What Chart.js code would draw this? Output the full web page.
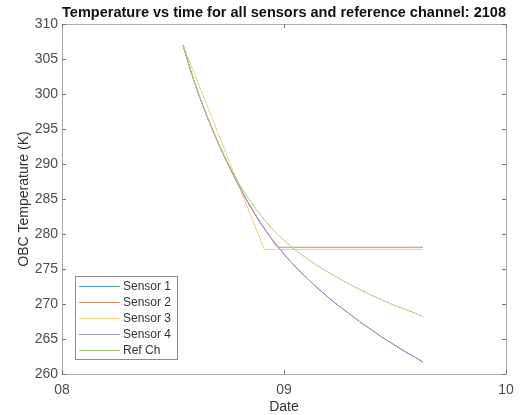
<!DOCTYPE html>
<html>
<head>
<meta charset="utf-8">
<script src="https://cdn.jsdelivr.net/npm/chart.js@4/dist/chart.umd.min.js"></script>
<style>
    html, body { margin: 0; padding: 0; background: #ffffff; }
    #contenedor { width: 525px; height: 415px; }
</style>
</head>
<body>
<div id="contenedor"><canvas id="chartTemperatura" width="525" height="415"></canvas></div>
<script>
// Eje X en dias contados desde el dia 08
const tickDias = [0, 1, 2];
const tickEtiquetas = ['08', '09', '10'];

const nombresSeries = ['Sensor 1', 'Sensor 2', 'Sensor 3', 'Sensor 4', 'Ref Ch'];
const coloresSeries = ['#5a9bcf', '#e08c66', '#f0cf7c', '#a391bf', '#a9c87f'];

// Curvas
const tiempoCurva = [0.545, 0.59, 0.64, 0.69, 0.74, 0.79, 0.84, 0.89, 0.94, 0.99, 1.04, 1.09,
                     1.14, 1.19, 1.24, 1.29, 1.34, 1.39, 1.44, 1.49, 1.54, 1.59, 1.626];
const tempSensor4 = [307.0, 302.3, 297.9, 294.0, 290.5, 287.3, 284.4, 281.8, 279.5, 277.5, 275.7, 274.1,
                     272.6, 271.2, 269.9, 268.7, 267.5, 266.4, 265.3, 264.3, 263.3, 262.4, 261.7];
const tempRef     = [307.0, 302.3, 297.9, 294.0, 290.6, 287.6, 285.1, 282.9, 281.0, 279.4, 278.0, 276.8,
                     275.7, 274.7, 273.8, 272.9, 272.1, 271.3, 270.6, 269.9, 269.3, 268.7, 268.2];

// Sensor 1 queda tapado por el sensor 4
const tiempoSensor1 = tiempoCurva;
const tempSensor1 = tempSensor4;

const tiempoSensor2 = [0.545, 0.59, 0.64, 0.69, 0.74, 0.79, 0.84, 0.89, 0.94, 0.975, 1.626];
const tempSensor2   = [307.0, 302.3, 297.9, 294.0, 290.5, 287.3, 284.4, 281.8, 279.5, 278.1, 278.1];

const tiempoSensor3 = [0.545, 0.911, 1.626];
const tempSensor3   = [307.0, 277.8, 277.8];

function armarPuntos(tiempos, valores) {
    return tiempos.map((t, i) => ({ x: t, y: valores[i] }));
}

const series = [
    armarPuntos(tiempoSensor1, tempSensor1),
    armarPuntos(tiempoSensor2, tempSensor2),
    armarPuntos(tiempoSensor3, tempSensor3),
    armarPuntos(tiempoCurva, tempSensor4),
    armarPuntos(tiempoCurva, tempRef)
];

Chart.defaults.font.family = '"Liberation Sans", Arial, sans-serif';

// Caja de los ejes con ticks hacia adentro (estilo MATLAB)
const marcoEjes = {
    id: 'marcoEjes',
    afterDatasetsDraw(chart) {
        const { ctx, chartArea: a, scales: { x, y } } = chart;
        ctx.save();
        ctx.strokeStyle = '#a8a8a8';
        ctx.lineWidth = 1;
        ctx.strokeRect(Math.round(a.left) + 0.5, Math.round(a.top) + 0.5,
                       Math.round(a.right - a.left), Math.round(a.bottom - a.top));
        ctx.strokeStyle = '#777777';
        ctx.beginPath();
        y.ticks.forEach(t => {
            const py = Math.round(y.getPixelForValue(t.value)) + 0.5;
            ctx.moveTo(a.left, py); ctx.lineTo(a.left + 4, py);
            ctx.moveTo(a.right, py); ctx.lineTo(a.right - 4, py);
        });
        x.ticks.forEach(t => {
            const px = Math.round(x.getPixelForValue(t.value)) + 0.5;
            ctx.moveTo(px, a.bottom); ctx.lineTo(px, a.bottom - 4);
            ctx.moveTo(px, a.top); ctx.lineTo(px, a.top + 4);
        });
        ctx.stroke();
        ctx.restore();
    }
};

// Leyenda dentro del area, abajo a la izquierda
const leyendaInterna = {
    id: 'leyendaInterna',
    afterDraw(chart) {
        const { ctx, chartArea: a } = chart;
        const x0 = a.left + 13, y0 = a.bottom - 98, ancho = 102, alto = 83;
        ctx.save();
        ctx.fillStyle = '#ffffff';
        ctx.fillRect(x0, y0, ancho, alto);
        ctx.strokeStyle = '#8c8c8c';
        ctx.lineWidth = 1;
        ctx.strokeRect(x0 + 0.5, y0 + 0.5, ancho, alto);
        ctx.font = '12px "Liberation Sans", Arial, sans-serif';
        ctx.textBaseline = 'middle';
        ctx.fillStyle = '#333333';
        chart.data.datasets.forEach((ds, i) => {
            const fy = Math.round(y0 + 10 + i * 16) + 0.5;
            ctx.strokeStyle = ds.borderColor;
            ctx.beginPath();
            ctx.moveTo(x0 + 4, fy); ctx.lineTo(x0 + 45, fy);
            ctx.stroke();
            ctx.fillText(ds.label, x0 + 48, fy);
        });
        ctx.restore();
    }
};

new Chart(document.getElementById('chartTemperatura').getContext('2d'), {
    type: 'line',
    data: {
        datasets: series.map((datos, i) => ({
            label: nombresSeries[i],
            data: datos,
            borderColor: coloresSeries[i],
            backgroundColor: coloresSeries[i],
            borderWidth: 1,
            pointRadius: 0,
            fill: false,
            cubicInterpolationMode: i === 2 ? 'default' : 'monotone',
            tension: 0,
            order: nombresSeries.length - i
        }))
    },
    options: {
        responsive: false,
        animation: false,
        devicePixelRatio: 1,
        layout: { padding: { left: 0, right: 19, top: 0, bottom: 0 } },
        plugins: {
            legend: { display: false },
            tooltip: { enabled: false },
            title: {
                display: true,
                text: 'Temperature vs time for all sensors and reference channel: 2108',
                fullSize: false,
                color: '#111111',
                font: { size: 15, weight: 'bold' },
                padding: { top: 4, bottom: 2 }
            }
        },
        scales: {
            x: {
                type: 'linear',
                min: 0,
                max: 2,
                afterBuildTicks: scale => { scale.ticks = tickDias.map(v => ({ value: v })); },
                afterFit: scale => { scale.height = 41; },
                grid: { display: false, drawTicks: false, tickLength: 0 },
                border: { display: false },
                ticks: {
                    color: '#4d4d4d',
                    font: { size: 14 },
                    padding: 8,
                    maxRotation: 0,
                    callback: v => tickEtiquetas[tickDias.indexOf(v)]
                },
                title: {
                    display: true,
                    text: 'Date',
                    color: '#333333',
                    font: { size: 14 },
                    padding: { top: 0, bottom: -1 }
                }
            },
            y: {
                min: 260,
                max: 310,
                afterFit: scale => { scale.width = 62; },
                grid: { display: false, drawTicks: false, tickLength: 0 },
                border: { display: false },
                ticks: {
                    stepSize: 5,
                    color: '#4d4d4d',
                    font: { size: 14 },
                    padding: 4
                },
                title: {
                    display: true,
                    text: 'OBC Temperature (K)',
                    color: '#333333',
                    font: { size: 14 },
                    padding: { top: 16, bottom: 0 }
                }
            }
        }
    },
    plugins: [marcoEjes, leyendaInterna]
});
</script>
</body>
</html>
